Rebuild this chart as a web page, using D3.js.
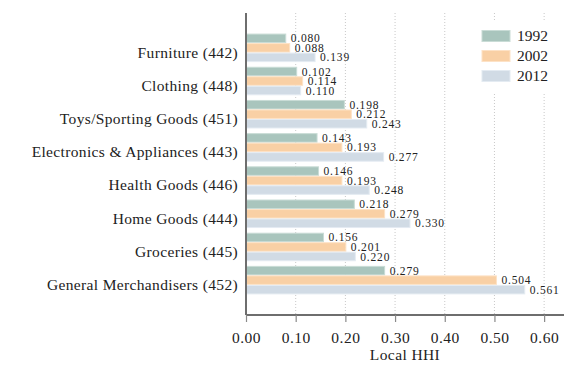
<!DOCTYPE html>
<html><head><meta charset="utf-8">
<script src="https://cdn.jsdelivr.net/npm/d3@7"></script>
<style>body{margin:0;background:#fff;} svg{display:block;} text{font-family:"Liberation Serif","DejaVu Serif",serif;fill:#222;}</style>
</head><body>
<svg id="c" width="578" height="389"></svg>
<script>
const categories = ["Furniture (442)","Clothing (448)","Toys/Sporting Goods (451)","Electronics & Appliances (443)","Health Goods (446)","Home Goods (444)","Groceries (445)","General Merchandisers (452)"];
const years = ["1992","2002","2012"];
const v1992 = [0.080,0.102,0.198,0.143,0.146,0.218,0.156,0.279];
const v2002 = [0.088,0.114,0.212,0.193,0.193,0.279,0.201,0.504];
const v2012 = [0.139,0.110,0.243,0.277,0.248,0.330,0.220,0.561];
const xTicks = [0,0.1,0.2,0.3,0.4,0.5,0.6];
const xLabel = "Local HHI";

const fills = {"1992":"#a9c5bd","2002":"#f9d0a5","2012":"#d1dbe5"};
const strokes = {"1992":"#c9dcd6","2002":"#fde2c6","2012":"#e4ebf2"};
const series = {"1992":v1992,"2002":v2002,"2012":v2012};

const svg = d3.select("#c");
const L = 246, R = 564, T = 13, B = 315;
const x = d3.scaleLinear().domain([0,0.64]).range([L,R]);
const y = d3.scaleBand().domain(categories).range([T,B]).paddingInner(0.14).paddingOuter(0.62);
const yi = d3.scaleBand().domain(years).range([0,y.bandwidth()]);

// grid
svg.append("g").selectAll("line").data(xTicks.filter(d=>d>0)).join("line")
  .attr("x1",d=>x(d)).attr("x2",d=>x(d)).attr("y1",T).attr("y2",B)
  .attr("stroke","#c8c8c8").attr("stroke-width",1).attr("stroke-dasharray","1,2");

// bars
const data = [];
categories.forEach((c,i)=>years.forEach(yr=>data.push({c,yr,v:series[yr][i]})));
svg.append("g").selectAll("rect").data(data).join("rect")
  .attr("x",x(0)+0.5).attr("y",d=>y(d.c)+yi(d.yr)+0.5)
  .attr("width",d=>x(d.v)-x(0)-0.5).attr("height",yi.bandwidth()-1)
  .attr("fill",d=>fills[d.yr]).attr("stroke",d=>strokes[d.yr]).attr("stroke-width",1);

svg.append("g").selectAll("text").data(data).join("text")
  .attr("x",d=>x(d.v)+5).attr("y",d=>y(d.c)+yi(d.yr)+yi.bandwidth()/2)
  .attr("dy","0.35em").style("font-size","11.5px").style("letter-spacing","0.8px").text(d=>d.v.toFixed(3));

// category labels
svg.append("g").selectAll("text").data(categories).join("text")
  .attr("x",L-8).attr("y",d=>y(d)+y.bandwidth()*2/3)
  .attr("dy","0.33em").attr("text-anchor","end").style("font-size","15.5px").style("letter-spacing","0.35px").text(d=>d);

// x axis
const xAxis = d3.axisBottom(x).tickValues(xTicks).tickFormat(d3.format(".2f")).tickSize(7).tickPadding(10);
const gx = svg.append("g").attr("transform",`translate(0,${B})`).call(xAxis);
gx.select(".domain").attr("stroke","#6e6e6e").attr("stroke-width",2).attr("d",`M${L},0H${R}`);
gx.selectAll(".tick line").attr("stroke","#8a8a8a").attr("stroke-width",1.2);
gx.selectAll(".tick text").style("font-size","15.5px").style("font-family","Liberation Serif").style("letter-spacing","0.5px").attr("fill","#222");
svg.append("line").attr("x1",L).attr("x2",L).attr("y1",T).attr("y2",B)
  .attr("stroke","#6e6e6e").attr("stroke-width",2);

svg.append("text").attr("x",(L+R)/2).attr("y",360).attr("text-anchor","middle")
  .style("font-size","15.5px").style("letter-spacing","0.4px").text(xLabel);

// legend
const lg = svg.append("g");
lg.append("rect").attr("x",473).attr("y",20).attr("width",88).attr("height",72).attr("fill","#fff");
years.forEach((yr,i)=>{
  lg.append("rect").attr("x",482).attr("y",30.5+i*20).attr("width",28).attr("height",11)
    .attr("fill",fills[yr]).attr("stroke",strokes[yr]).attr("stroke-width",1);
  lg.append("text").attr("x",517).attr("y",36+i*20).attr("dy","0.35em").style("font-size","15.5px").text(yr);
});
</script>
</body></html>
